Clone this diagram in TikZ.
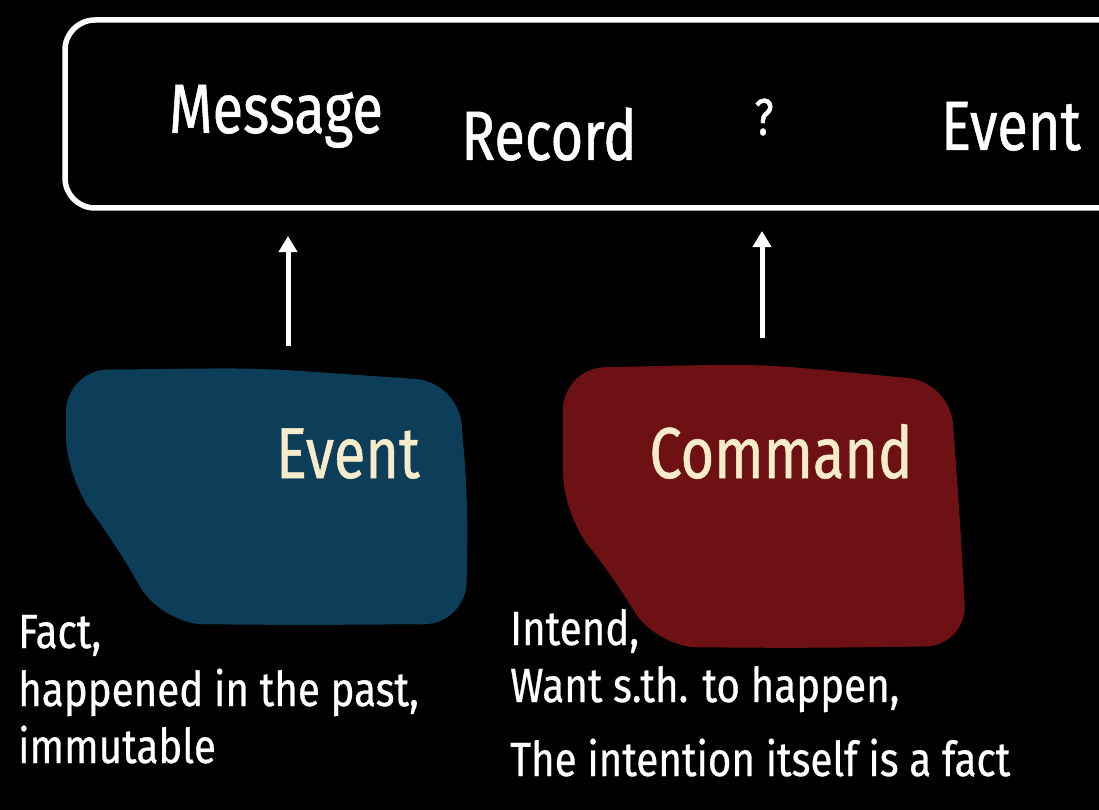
\documentclass[tikz,border=0pt]{standalone}
\usepackage{fontspec}
\setmainfont{Fira Sans}
\newfontfamily\handbig{Fira Sans}[FakeStretch=0.8,FakeBold=0.7]
\newfontfamily\handsmall{Fira Sans}[FakeStretch=0.84,FakeBold=0.6]
\usetikzlibrary{arrows.meta}
\definecolor{evblue}{HTML}{0C3D59}
\definecolor{cmdred}{HTML}{6D1115}
\definecolor{cream}{HTML}{F6ECCB}
\tikzset{
  frame/.style={draw=white, line width=5.5pt, rounded corners=30pt},
  head/.style={text=white, inner sep=0pt, anchor=base, font=\handbig\fontsize{70}{80}\selectfont},
  qmark/.style={text=white, inner sep=0pt, anchor=base, font=\handbig\fontsize{52}{60}\selectfont},
  bloblabel/.style={text=cream, inner sep=0pt, anchor=base, font=\handbig\fontsize{72}{80}\selectfont},
  caption/.style={text=white, inner sep=0pt, anchor=base west, font=\handsmall\fontsize{48}{57}\selectfont},
  uparrow/.style={draw=white, line width=5pt, -{Triangle[width=18pt,length=16pt]}},
  blob/.style={rounded corners=42pt},
}
\begin{document}
\begin{tikzpicture}[x=1pt,y=-1pt]
\useasboundingbox (0,0) rectangle (1099,810);
\clip (0,0) rectangle (1099,810);
\fill[black] (0,0) rectangle (1099,810);
% top frame (runs off the right edge)
\draw[frame] (1140,20) -- (65,20) -- (65,208) -- (1140,208);
\node[head] (msg) at (276,133) {Message};
\node[head] (rec) at (549,160) {Record};
\node[qmark] (q) at (764,135) {?};
\node[head] (evh) at (1011,150) {Event};
% blobs
\fill[evblue, blob] (66,370) -- (258,368) -- (458,382) -- (468,500) -- (466,624)
  -- (300,625) -- (162,624) -- (110,535) -- (66,478) -- cycle;
\fill[cmdred, blob] (563,368) -- (760,364) -- (950,382) -- (960,520) -- (967,646)
  -- (800,648) -- (655,647) -- (615,578) -- (563,515) -- cycle;
\node[bloblabel] (ev) at (348,478) {Event};
\node[bloblabel] (cmd) at (781,478) {Command};
% arrows
\coordinate (a1s) at (288,346);
\coordinate (a1e) at (288,236);
\coordinate (a2s) at (762,338);
\coordinate (a2e) at (762,231);
\draw[uparrow] (a1s) -- (a1e);
\draw[uparrow] (a2s) -- (a2e);
% captions
\node[caption] (f1) at (18,648) {Fact,};
\node[caption] (f2) at (18,706) {happened in the past,};
\node[caption] (f3) at (18,763) {immutable};
\node[caption] (c1) at (510,645) {Intend,};
\node[caption] (c2) at (510,702) {Want s.th. to happen,};
\node[caption] (c3) at (510,776) {The intention itself is a fact};
\end{tikzpicture}
\end{document}
